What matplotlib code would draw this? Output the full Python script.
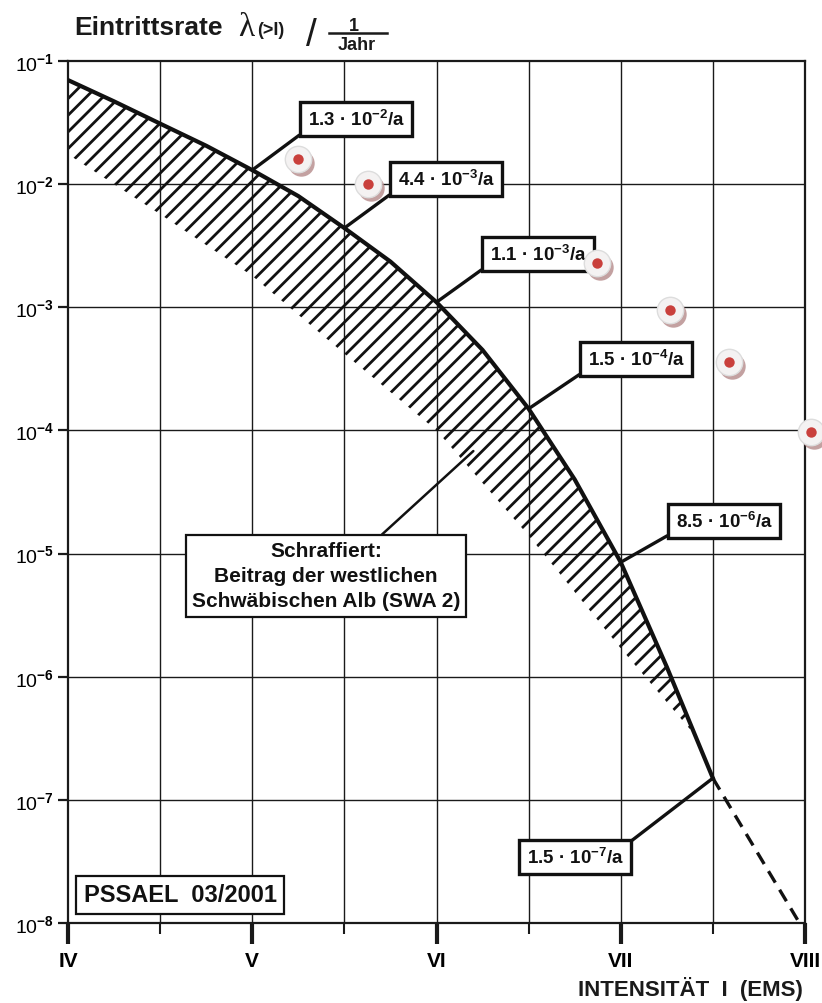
import matplotlib
matplotlib.use("Agg")
import matplotlib.pyplot as plt
from matplotlib.transforms import offset_copy
from matplotlib.lines import Line2D
import numpy as np

plt.rcParams['font.family'] = ['Liberation Sans', 'DejaVu Sans']
plt.rcParams['mathtext.fontset'] = 'custom'
plt.rcParams['mathtext.rm'] = 'Liberation Sans'
plt.rcParams['mathtext.bf'] = 'Liberation Sans:bold'
plt.rcParams['mathtext.it'] = 'Liberation Sans:italic'
plt.rcParams['mathtext.default'] = 'bf'
plt.rcParams['hatch.linewidth'] = 2.0

# ---------------- data ----------------
upper_x = [4.0, 4.25, 4.5, 4.75, 5.0, 5.25, 5.5, 5.75, 6.0, 6.25, 6.5, 6.75, 7.0, 7.25, 7.5]
upper_y = [7.0e-2, 4.7e-2, 3.1e-2, 2.05e-2, 1.3e-2, 8.0e-3, 4.4e-3, 2.35e-3, 1.1e-3,
           4.5e-4, 1.5e-4, 4.0e-5, 8.5e-6, 1.2e-6, 1.5e-7]

lower_x = [4.0, 4.5, 5.0, 5.5, 6.0, 6.5, 7.0, 7.4]
lower_y = [1.75e-2, 5.7e-3, 1.8e-3, 4.2e-4, 1.0e-4, 1.4e-5, 1.7e-6, 3.4e-7]

ext_x = [7.5, 7.97]
ext_y = [1.5e-7, 1.0e-8]

x_ticks = [4, 5, 6, 7, 8]
x_ticklabels = ["IV", "V", "VI", "VII", "VIII"]
y_exponents = [-8, -7, -6, -5, -4, -3, -2, -1]

label_texts = [r"1.3 · 10$^{-2}$/a", r"4.4 · 10$^{-3}$/a", r"1.1 · 10$^{-3}$/a",
               r"1.5 · 10$^{-4}$/a", r"8.5 · 10$^{-6}$/a", r"1.5 · 10$^{-7}$/a"]
label_x = [5.0, 5.5, 6.0, 6.5, 7.0, 7.5]
label_y = [1.3e-2, 4.4e-3, 1.1e-3, 1.5e-4, 8.5e-6, 1.5e-7]

pin_x = [5.25, 5.63, 6.87, 7.27, 7.59, 8.03]
pin_y = [1.6e-2, 1.0e-2, 2.3e-3, 9.5e-4, 3.6e-4, 9.8e-5]

W, H = 822, 1004


def fx(px):
    return px / W


def fy(py):
    return 1 - py / H


fig = plt.figure(figsize=(W / 100, H / 100), dpi=100)
fig.patch.set_facecolor('white')
ax = fig.add_axes([fx(68), fy(924), (805 - 68) / W, (924 - 62) / H])
ax.set_yscale('log')
ax.set_xlim(4, 8)
ax.set_ylim(1e-8, 1e-1)

# grid
for xv in np.arange(4.5, 8.0, 0.5):
    ax.axvline(xv, color='#1a1a1a', lw=1.0, zorder=1)
for e in y_exponents[1:-1]:
    ax.axhline(10.0 ** e, color='#1a1a1a', lw=1.0, zorder=1)

for s in ax.spines.values():
    s.set_linewidth(1.6)
    s.set_color('#1a1a1a')

# ticks
ax.set_xticks(x_ticks)
ax.set_xticklabels(x_ticklabels, fontsize=15, fontweight='bold')
ax.set_xticks(np.arange(4.5, 8.0, 1.0), minor=True)
ax.tick_params(axis='x', which='major', direction='out', length=15, width=3, pad=5, color='#1a1a1a')
ax.tick_params(axis='x', which='minor', direction='out', length=8, width=1.5, color='#1a1a1a')
ax.set_yticks([10.0 ** e for e in y_exponents])
ax.set_yticklabels([r"$\mathrm{10}^{\mathbf{%d}}$" % e for e in y_exponents], fontsize=14)
ax.yaxis.set_minor_locator(matplotlib.ticker.NullLocator())
ax.tick_params(axis='y', which='major', direction='out', length=7, width=1.6, pad=3, color='#1a1a1a')

# hatched area
n_up = upper_x.index(7.0) + 1
poly_x = upper_x[:n_up] + lower_x[::-1]
poly_y = upper_y[:n_up] + lower_y[::-1]
ax.fill(poly_x, poly_y, facecolor='none', edgecolor='#111111', hatch='//', lw=0, zorder=2)

# curve
ax.plot(upper_x, upper_y, color='#111111', lw=3.0, zorder=4, solid_joinstyle='round')
ax.plot(ext_x, ext_y, color='#111111', lw=2.4, ls=(0, (4, 2.5)), zorder=4)

# value labels
box_px = [(356, 120), (446, 180), (538, 255), (636, 360), (724, 522), (575, 858)]
relpos = [(0, 0), (0, 0), (0, 0), (0, 0), (0, 0), (1, 1)]
for t, lx, ly, (bx, by), rp in zip(label_texts, label_x, label_y, box_px, relpos):
    ax.annotate(t, xy=(lx, ly), xycoords='data',
                xytext=(bx, H - by), textcoords='figure pixels',
                ha='center', va='center', fontsize=13.5, fontweight='bold', color='#111111',
                bbox=dict(boxstyle='square,pad=0.38', fc='white', ec='#111111', lw=2.4),
                arrowprops=dict(arrowstyle='-', lw=2.4, color='#111111',
                                shrinkA=0, shrinkB=0, relpos=rp),
                zorder=6)

# hatched legend box
ax.annotate("Schraffiert:\nBeitrag der westlichen\nSchwäbischen Alb (SWA 2)",
            xy=(6.2, 6.8e-5), xycoords='data',
            xytext=(326, H - 577), textcoords='figure pixels',
            ha='center', va='center', fontsize=15, fontweight='bold', color='#111111',
            linespacing=1.4,
            bbox=dict(boxstyle='square,pad=0.3', fc='white', ec='#111111', lw=1.6),
            arrowprops=dict(arrowstyle='-', lw=1.8, color='#111111',
                            shrinkA=0, shrinkB=0, relpos=(0.68, 1)),
            zorder=6)

# PSSAEL box
fig.text(fx(180), fy(896), "PSSAEL  03/2001", ha='center', va='center',
         fontsize=17, fontweight='bold', color='#111111',
         bbox=dict(boxstyle='square,pad=0.3', fc='white', ec='#111111', lw=1.6), zorder=6)

# red pins
shadow_tr = offset_copy(ax.transData, fig=fig, x=3, y=-4, units='dots')
ax.plot(pin_x, pin_y, 'o', ms=19, color='#b58a8a', alpha=0.8, transform=shadow_tr,
        clip_on=False, zorder=8, markeredgewidth=0)
ax.plot(pin_x, pin_y, 'o', ms=19, mfc='#f4f2f2', mec='#dddddd', mew=1,
        clip_on=False, zorder=9)
ax.plot(pin_x, pin_y, 'o', ms=7.5, color='#c9403c', markeredgewidth=0,
        clip_on=False, zorder=10)

# title
fig.text(fx(74), fy(35), "Eintrittsrate", fontsize=19, fontweight='bold',
         color='#1a1a1a', va='baseline', ha='left')
fig.text(fx(238), fy(36), "λ", fontsize=24, family=['Liberation Serif', 'DejaVu Serif'],
         color='#1a1a1a', va='baseline', ha='left')
fig.text(fx(257), fy(35), "(>I)", fontsize=13, fontweight='bold',
         color='#1a1a1a', va='baseline', ha='left')
fig.text(fx(311), fy(36), "/", fontsize=28, color='#1a1a1a', va='center', ha='center')
fig.text(fx(354), fy(31), "1", fontsize=13, fontweight='bold',
         color='#1a1a1a', va='baseline', ha='center')
fig.add_artist(Line2D([fx(329), fx(387)], [fy(34), fy(34)], color='#1a1a1a', lw=1.8))
fig.text(fx(357), fy(50), "Jahr", fontsize=13, fontweight='bold',
         color='#1a1a1a', va='baseline', ha='center')

# x-axis title
fig.text(fx(803), fy(996), "INTENSITÄT  I  (EMS)", fontsize=16, fontweight='bold',
         color='#1a1a1a', va='baseline', ha='right')

fig.savefig("out.png", dpi=100, facecolor='white')
